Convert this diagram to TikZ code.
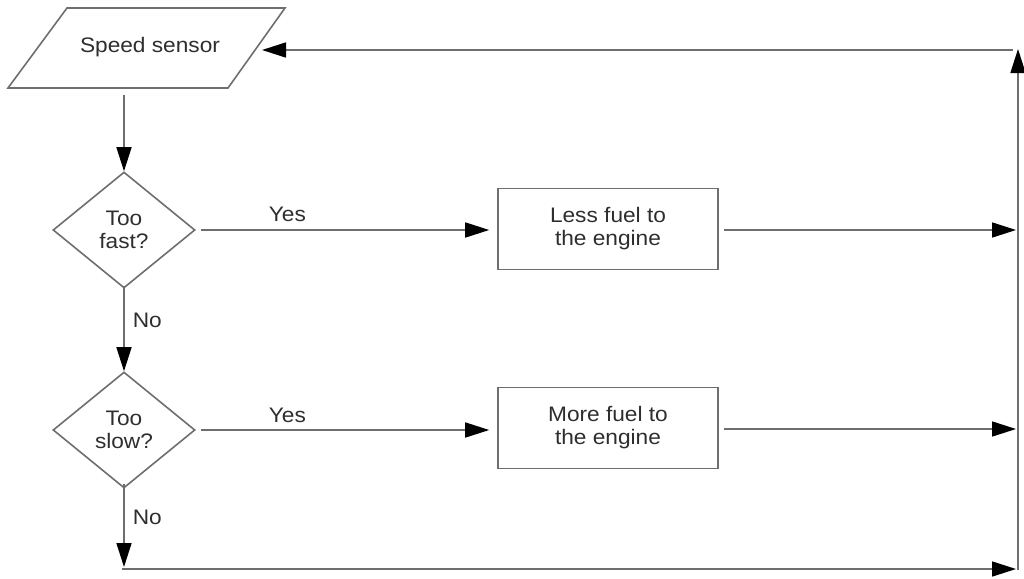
\documentclass[tikz,border=0pt]{standalone}
\usepackage{fontspec}
\setmainfont{Liberation Sans}[FakeStretch=1.08]
\usetikzlibrary{arrows.meta,shapes.geometric}
\definecolor{linegray}{HTML}{6E6E6E}
\definecolor{txtgray}{HTML}{2E2E2E}
\begin{document}
\begin{tikzpicture}[x=1pt,y=-1pt,
  line/.style={draw=linegray, line width=1.6pt},
  arr/.style={line, -{Triangle[length=24pt,width=15pt,color=black]}},
  lbl/.style={text=txtgray, font=\fontsize{21}{23}\selectfont, align=center, inner sep=0pt},
  boxnode/.style={line, lbl, minimum width=220pt, minimum height=81pt},
  decision/.style={line, lbl, diamond, minimum width=142pt, minimum height=116pt, aspect=1.22}]
\useasboundingbox (0,0) rectangle (1024,578);

% input: speed sensor (parallelogram)
\coordinate (p1) at (67,8);
\coordinate (p2) at (285,8);
\coordinate (p3) at (228,88);
\coordinate (p4) at (8,88);
\draw[line, line join=miter] (p1) -- (p2) -- (p3) -- (p4) -- cycle;
\node[lbl] (sensor) at (150,47) {Speed sensor};
\coordinate (sensorin) at (262,50);
\coordinate (sensorout) at (124,95);

% decisions
\node[decision] (fast) at (124,230) {Too\\fast?};
\node[decision] (slow) at (124,430) {Too\\slow?};

% actions
\node[boxnode] (less) at (608,229) {Less fuel to\\the engine};
\node[boxnode] (more) at (608,428) {More fuel to\\the engine};

% right-hand return rail
\coordinate (rtop) at (1018,49);
\coordinate (rbot) at (1018,570);
\coordinate (htop) at (1013,50);
\coordinate (hless) at (1016,230);
\coordinate (hmore) at (1016,429);
\coordinate (hbot) at (1016,569);
\coordinate (bstart) at (122,569);
\coordinate (bdown) at (124,567);

% connectors
\draw[arr] (sensorout) -- (fast.north);
\draw[arr] ([xshift=5pt]fast.east) -- node[lbl, above=7pt, pos=0.3] {Yes} ([xshift=-8pt]less.west |- fast.east);
\draw[arr] ([yshift=3pt]fast.south) -- node[lbl, right=8pt, pos=0.4] {No} (slow.north);
\draw[arr] ([xshift=5pt]slow.east) -- node[lbl, above=7pt, pos=0.3] {Yes} ([xshift=-8pt]more.west |- slow.east);
\draw[arr] ([yshift=5pt]slow.south) -- node[lbl, right=8pt, pos=0.4] {No} (bdown);
\draw[arr] ([xshift=5pt]less.east |- hless) -- (hless);
\draw[arr] ([xshift=5pt]more.east |- hmore) -- (hmore);
\draw[arr] (bstart) -- (hbot);
\draw[arr] (rbot) -- (rtop);
\draw[arr] (htop) -- (sensorin);
\end{tikzpicture}
\end{document}
